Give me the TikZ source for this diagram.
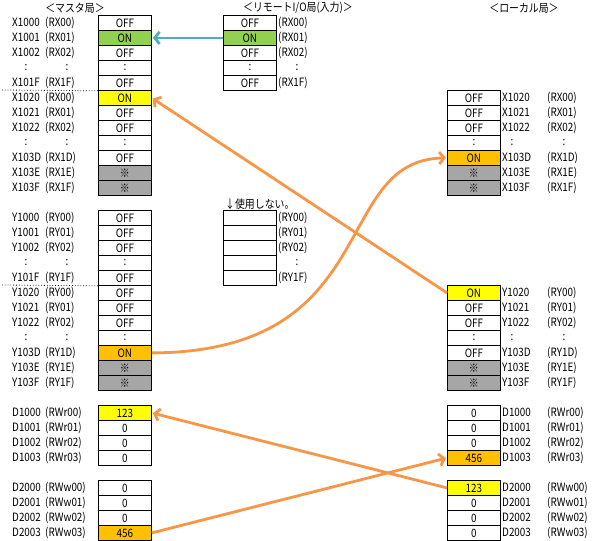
\documentclass[tikz,border=0pt]{standalone}
\usepackage{fontspec}
\setmainfont[FakeStretch=0.86]{Noto Sans CJK JP}
\usetikzlibrary{arrows.meta}

\definecolor{onGreen}{HTML}{92D050}
\definecolor{onYellow}{HTML}{FFFF00}
\definecolor{onOrange}{HTML}{FFC000}
\definecolor{unused}{HTML}{A6A6A6}
\definecolor{linkOrange}{HTML}{F79646}
\definecolor{linkBlue}{HTML}{4BACC6}

\tikzset{
  cell/.style={draw, line width=0.8pt, minimum width=53pt, minimum height=15pt,
               inner sep=0pt, anchor=north west},
  lbl/.style={anchor=west, inner sep=0pt},
  link/.style={line width=2.8pt, draw=linkOrange, shorten >=1pt,
               -{Straight Barb[length=5pt,width=12pt]}},
}

\begin{document}
\begin{tikzpicture}[x=1pt, y=-1pt, every node/.style={font=\fontsize{11.5}{12}\selectfont}]
  \useasboundingbox (0,0) rectangle (598,541);

  % titles
  \node (tMaster) at (75,8) {＜マスタ局＞};
  \node (tRemote) at (298,8) {＜リモートI/O局(入力)＞};
  \node (tLocal) at (524,8) {＜ローカル局＞};
  \node[lbl] (tUnused) at (225,204) {↓使用しない。};

  % master station
  \foreach \v/\c [count=\i] in {OFF/white,ON/onGreen,OFF/white,:/white,OFF/white,ON/onYellow,
                               OFF/white,OFF/white,:/white,OFF/white,※/unused,※/unused}
    \node[cell, fill=\c] (mx\i) at (98,{15*\i}) {\v};
  \foreach \v/\c [count=\i] in {OFF/white,OFF/white,OFF/white,:/white,OFF/white,OFF/white,
                               OFF/white,OFF/white,:/white,ON/onOrange,※/unused,※/unused}
    \node[cell, fill=\c] (my\i) at (98,{195+15*\i}) {\v};
  \foreach \v/\c [count=\i] in {123/onYellow,0/white,0/white,0/white}
    \node[cell, fill=\c] (mr\i) at (98,{390+15*\i}) {\v};
  \foreach \v/\c [count=\i] in {0/white,0/white,0/white,456/onOrange}
    \node[cell, fill=\c] (mw\i) at (98,{465+15*\i}) {\v};

  \foreach \r/\a/\b in {1/X1000/(RX00),2/X1001/(RX01),3/X1002/(RX02),5/X101F/(RX1F),
                        6/X1020/(RX00),7/X1021/(RX01),8/X1022/(RX02),10/X103D/(RX1D),
                        11/X103E/(RX1E),12/X103F/(RX1F)} {
    \node[lbl] (mxa\r) at (12,{7.5+15*\r}) {\a};
    \node[lbl] (mxb\r) at (45,{7.5+15*\r}) {\b};
  }
  \foreach \r/\a/\b in {1/Y1000/(RY00),2/Y1001/(RY01),3/Y1002/(RY02),5/Y101F/(RY1F),
                        6/Y1020/(RY00),7/Y1021/(RY01),8/Y1022/(RY02),10/Y103D/(RY1D),
                        11/Y103E/(RY1E),12/Y103F/(RY1F)} {
    \node[lbl] (mya\r) at (12,{202.5+15*\r}) {\a};
    \node[lbl] (myb\r) at (45,{202.5+15*\r}) {\b};
  }
  \foreach \r in {4,9} {
    \node (mxc\r) at (26,{7.5+15*\r}) {:};
    \node (mxd\r) at (67,{7.5+15*\r}) {:};
    \node (myc\r) at (26,{202.5+15*\r}) {:};
    \node (myd\r) at (67,{202.5+15*\r}) {:};
  }
  \foreach \r in {0,...,3} {
    \node[lbl] (mra\r) at (12,{412.5+15*\r}) {D100\r};
    \node[lbl] (mrb\r) at (45,{412.5+15*\r}) {(RWr0\r)};
    \node[lbl] (mwa\r) at (12,{487.5+15*\r}) {D200\r};
    \node[lbl] (mwb\r) at (45,{487.5+15*\r}) {(RWw0\r)};
  }
  \draw[dotted, line width=0.8pt] (2,90) -- (mx5.south west);
  \draw[dotted, line width=0.8pt] (2,285) -- (my5.south west);

  % remote I/O station
  \foreach \v/\c [count=\i] in {OFF/white,ON/onGreen,OFF/white,:/white,OFF/white}
    \node[cell, fill=\c] (rx\i) at (223,{15*\i}) {\v};
  \foreach \i in {1,...,5}
    \node[cell] (ry\i) at (223,{195+15*\i}) {};
  \foreach \r/\b in {1/(RX00),2/(RX01),3/(RX02),5/(RX1F)}
    \node[lbl] (rxb\r) at (278,{7.5+15*\r}) {\b};
  \foreach \r/\b in {1/(RY00),2/(RY01),3/(RY02),5/(RY1F)}
    \node[lbl] (ryb\r) at (278,{202.5+15*\r}) {\b};
  \node (rxc) at (297,67.5) {:};
  \node (ryc) at (297,262.5) {:};

  % local station
  \foreach \v/\c [count=\i] in {OFF/white,OFF/white,OFF/white,:/white,ON/onOrange,※/unused,※/unused}
    \node[cell, fill=\c] (lx\i) at (447,{75+15*\i}) {\v};
  \foreach \v/\c [count=\i] in {ON/onYellow,OFF/white,OFF/white,:/white,OFF/white,※/unused,※/unused}
    \node[cell, fill=\c] (ly\i) at (447,{270+15*\i}) {\v};
  \foreach \v/\c [count=\i] in {0/white,0/white,0/white,456/onOrange}
    \node[cell, fill=\c] (lr\i) at (447,{390+15*\i}) {\v};
  \foreach \v/\c [count=\i] in {123/onYellow,0/white,0/white,0/white}
    \node[cell, fill=\c] (lw\i) at (447,{465+15*\i}) {\v};

  \foreach \r/\a/\b in {1/X1020/(RX00),2/X1021/(RX01),3/X1022/(RX02),5/X103D/(RX1D),
                        6/X103E/(RX1E),7/X103F/(RX1F)} {
    \node[lbl] (lxa\r) at (502,{82.5+15*\r}) {\a};
    \node[lbl] (lxb\r) at (547,{82.5+15*\r}) {\b};
  }
  \foreach \r/\a/\b in {1/Y1020/(RY00),2/Y1021/(RY01),3/Y1022/(RY02),5/Y103D/(RY1D),
                        6/Y103E/(RY1E),7/Y103F/(RY1F)} {
    \node[lbl] (lya\r) at (502,{277.5+15*\r}) {\a};
    \node[lbl] (lyb\r) at (547,{277.5+15*\r}) {\b};
  }
  \node (lxc) at (512,142.5) {:};
  \node (lxd) at (564,142.5) {:};
  \node (lyc) at (512,337.5) {:};
  \node (lyd) at (564,337.5) {:};
  \foreach \r in {0,...,3} {
    \node[lbl] (lra\r) at (502,{412.5+15*\r}) {D100\r};
    \node[lbl] (lrb\r) at (547,{412.5+15*\r}) {(RWr0\r)};
    \node[lbl] (lwa\r) at (502,{487.5+15*\r}) {D200\r};
    \node[lbl] (lwb\r) at (547,{487.5+15*\r}) {(RWw0\r)};
  }

  % transfers
  \draw[link, draw=linkBlue] (rx2.west) -- (mx2.east);
  \draw[link] (ly1.west) -- (mx6.east);
  \draw[link] (my10.east) .. controls (385,352) and (330,160) .. (lx5.west);
  \draw[link] (lw1.west) -- (mr1.east);
  \draw[link] (mw4.east) -- (lr4.west);
\end{tikzpicture}
\end{document}
